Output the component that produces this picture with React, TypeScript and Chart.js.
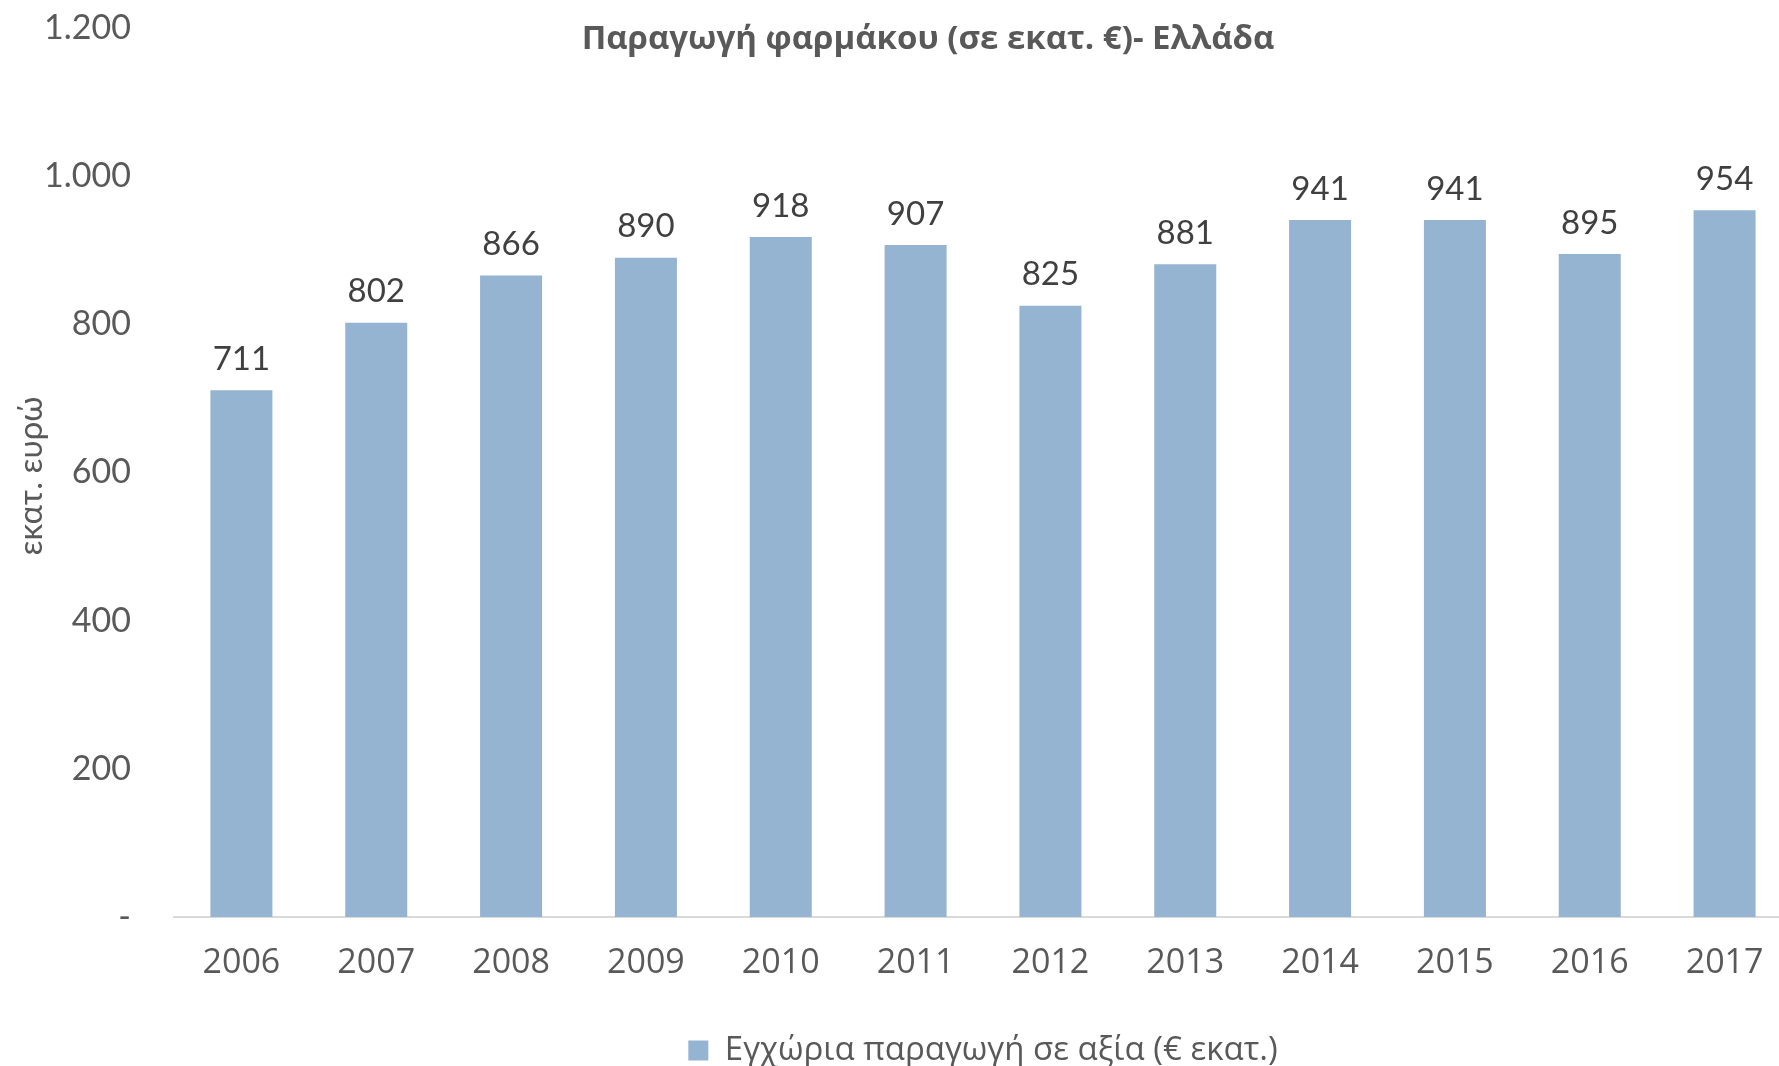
import React, { useEffect, useRef } from 'react';
import { Chart, registerables } from 'chart.js';

Chart.register(...registerables);

const categories = ['2006', '2007', '2008', '2009', '2010', '2011', '2012', '2013', '2014', '2015', '2016', '2017'];
const values = [711, 802, 866, 890, 918, 907, 825, 881, 941, 941, 895, 954];
const yMin = 0;
const yMax = 1200;
const yStep = 200;
const seriesLabel = 'Εγχώρια παραγωγή σε αξία (€ εκατ.)';
const chartTitle = 'Παραγωγή φαρμάκου (σε εκατ. €)- Ελλάδα';
const yAxisTitle = 'εκατ. ευρώ';

const BAR_COLOR = '#95B4D2';
const NARROW = "'Liberation Sans Narrow', 'Open Sans', sans-serif";
const GEOM = "Lato, 'DejaVu Sans', sans-serif";

function fmt(v: number): string {
  if (v === 0) return '-';
  if (v >= 1000) {
    return `${Math.floor(v / 1000)}.${String(v % 1000).padStart(3, '0')}`;
  }
  return String(v);
}

const overlayPlugin = {
  id: 'overlay',
  afterDatasetsDraw(chart: any) {
    const ctx = chart.ctx;
    const meta = chart.getDatasetMeta(0);
    ctx.save();
    ctx.fillStyle = '#404040';
    ctx.font = `33px ${GEOM}`;
    ctx.textAlign = 'center';
    ctx.textBaseline = 'middle';
    meta.data.forEach((bar: any, i: number) => {
      ctx.fillText(String(values[i]), bar.x, bar.y - 31);
    });
    ctx.restore();
  },
  afterDraw(chart: any) {
    const ctx = chart.ctx;
    ctx.save();
    ctx.fillStyle = '#595959';
    ctx.font = `bold 33px ${NARROW}`;
    ctx.textAlign = 'center';
    ctx.textBaseline = 'middle';
    ctx.fillText(chartTitle, 928, 40);
    ctx.translate(31, 476);
    ctx.rotate(-Math.PI / 2);
    ctx.font = `33px ${GEOM}`;
    ctx.fillText(yAxisTitle, 0, 0);
    ctx.restore();
  },
};

export default function App() {
  const ref = useRef<HTMLCanvasElement | null>(null);
  useEffect(() => {
    if (!ref.current) return;
    const chart = new Chart(ref.current, {
      type: 'bar',
      data: {
        labels: categories,
        datasets: [
          {
            label: seriesLabel,
            data: values,
            backgroundColor: BAR_COLOR,
            borderWidth: 0,
            barPercentage: 0.46,
            categoryPercentage: 1,
          },
        ],
      },
      options: {
        responsive: false,
        animation: false,
        layout: { padding: { top: 28, right: 8, left: 0, bottom: -11 } },
        plugins: {
          title: { display: false },
          tooltip: { enabled: false },
          legend: {
            position: 'bottom',
            fullSize: false,
            labels: {
              boxWidth: 20,
              boxHeight: 20,
              color: '#595959',
              font: { size: 33, family: NARROW },
              padding: 0,
            },
          },
        },
        scales: {
          x: {
            grid: { display: false, drawTicks: false },
            border: { display: true, color: '#D9D9D9', width: 2 },
            ticks: {
              color: '#595959',
              font: { size: 34, family: NARROW },
              padding: 26,
              maxRotation: 0,
            },
            afterFit(scale: any) {
              scale.height = 117;
            },
          },
          y: {
            min: yMin,
            max: yMax,
            grid: { display: false, drawTicks: false },
            border: { display: false },
            ticks: {
              stepSize: yStep,
              color: '#595959',
              font: { size: 34, family: GEOM },
              padding: 43,
              callback: (v: any) => fmt(Number(v)),
            },
            afterFit(scale: any) {
              scale.width = 174;
              scale.paddingTop = 0;
              scale.paddingBottom = 0;
            },
          },
        },
      },
      plugins: [overlayPlugin],
    });
    return () => chart.destroy();
  }, []);
  return (
    <div style={{ position: 'absolute', left: 0, top: 0, width: 1779, height: 1066, overflow: 'hidden', background: '#fff' }}>
      <canvas ref={ref} width={1800} height={1066} style={{ display: 'block' }} />
    </div>
  );
}
